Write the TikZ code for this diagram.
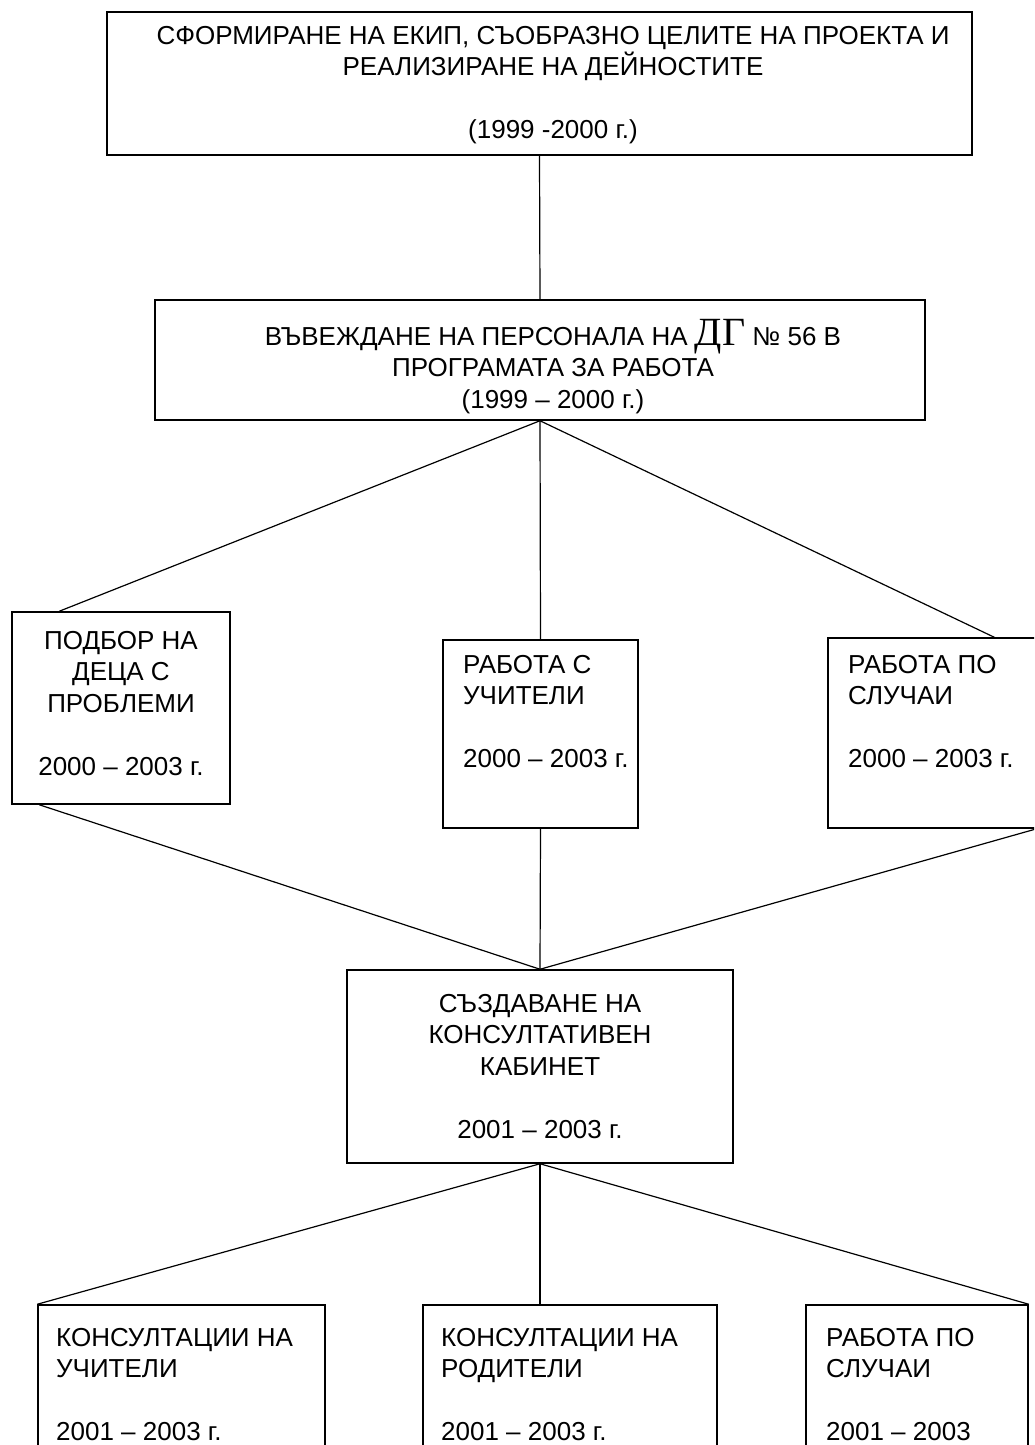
\documentclass[tikz,border=0pt]{standalone}
\usepackage{fontspec}
\setmainfont{Liberation Sans}
\newfontfamily\tnr{Liberation Serif}
\begin{document}
\begin{tikzpicture}[x=1pt,y=-1pt,
  box/.style={draw,line width=1.5pt,inner sep=0pt},
  conn/.style={line width=1.2pt},
  txt/.style={inner sep=0pt,font=\fontsize{26}{31.5}\selectfont},
  txtc/.style={txt,align=center,anchor=north},
  txtl/.style={txt,align=left,anchor=north west}]
\useasboundingbox (0,0) rectangle (1034,1445);
\clip (0,0) rectangle (1034,1445);
\fill[white] (0,0) rectangle (1034,1445);
% boxes
\node[box,minimum width=865pt,minimum height=143pt] (top) at (539.5,83.5) {};
\node[box,minimum width=770pt,minimum height=120pt] (plan) at (540,360) {};
\node[box,minimum width=218pt,minimum height=192pt] (sel) at (121,708) {};
\node[box,minimum width=195pt,minimum height=188pt] (teach) at (540.5,734) {};
\node[box,minimum width=208pt,minimum height=190pt] (cases) at (932,733) {};
\node[box,minimum width=386pt,minimum height=193pt] (cab) at (540,1066.5) {};
\node[box,minimum width=287pt,minimum height=160pt] (ct) at (181.5,1385) {};
\node[box,minimum width=294pt,minimum height=160pt] (cp) at (570,1385) {};
\node[box,minimum width=222pt,minimum height=160pt] (cc) at (917,1385) {};
% texts
\node[txtc] (t1) at (553,26) {СФОРМИРАНЕ НА ЕКИП, СЪОБРАЗНО ЦЕЛИТЕ НА ПРОЕКТА И\\РЕАЛИЗИРАНЕ НА ДЕЙНОСТИТЕ\\[31.5pt](1999 -2000 г.)};
\node[txtc] (t2) at (553,319) {ВЪВЕЖДАНЕ НА ПЕРСОНАЛА НА {\tnr\fontsize{40}{31.5}\selectfont ДГ} № 56 В\\ПРОГРАМАТА ЗА РАБОТА\\(1999 – 2000 г.)};
\node[txtc] (t3) at (121,631) {ПОДБОР НА\\ДЕЦА С\\ПРОБЛЕМИ\\[31.5pt]2000 – 2003 г.};
\node[txtl] (t4) at (463,655) {РАБОТА С\\УЧИТЕЛИ\\[31.5pt]2000 – 2003 г.};
\node[txtl] (t5) at (848,655) {РАБОТА ПО\\СЛУЧАИ\\[31.5pt]2000 – 2003 г.};
\node[txtc] (t6) at (540,994) {СЪЗДАВАНЕ НА\\КОНСУЛТАТИВЕН\\КАБИНЕТ\\[31.5pt]2001 – 2003 г.};
\node[txtl] (t7) at (56,1328) {КОНСУЛТАЦИИ НА\\УЧИТЕЛИ\\[31.5pt]2001 – 2003 г.};
\node[txtl] (t8) at (441,1328) {КОНСУЛТАЦИИ НА\\РОДИТЕЛИ\\[31.5pt]2001 – 2003 г.};
\node[txtl] (t9) at (826,1328) {РАБОТА ПО\\СЛУЧАИ\\[31.5pt]2001 – 2003};
% connectors
\coordinate (selin) at ([xshift=48pt]sel.north west);
\coordinate (selout) at ([xshift=28pt]sel.south west);
\coordinate (casesin) at ([xshift=167pt]cases.north west);
\coordinate (cpin) at (cab.south |- cp.north);
\draw[conn] (top.south) -- (plan.north);
\draw[conn] (plan.south) -- (selin);
\draw[conn] (plan.south) -- (teach.north);
\draw[conn] (plan.south) -- (casesin);
\draw[conn] (selout) -- (cab.north);
\draw[conn] (teach.south) -- (cab.north);
\draw[conn] (cases.south east) -- (cab.north);
\draw[conn] (cab.south) -- (ct.north west);
\draw[conn] (cab.south) -- (cpin);
\draw[conn] (cab.south) -- (cc.north east);
\end{tikzpicture}
\end{document}
